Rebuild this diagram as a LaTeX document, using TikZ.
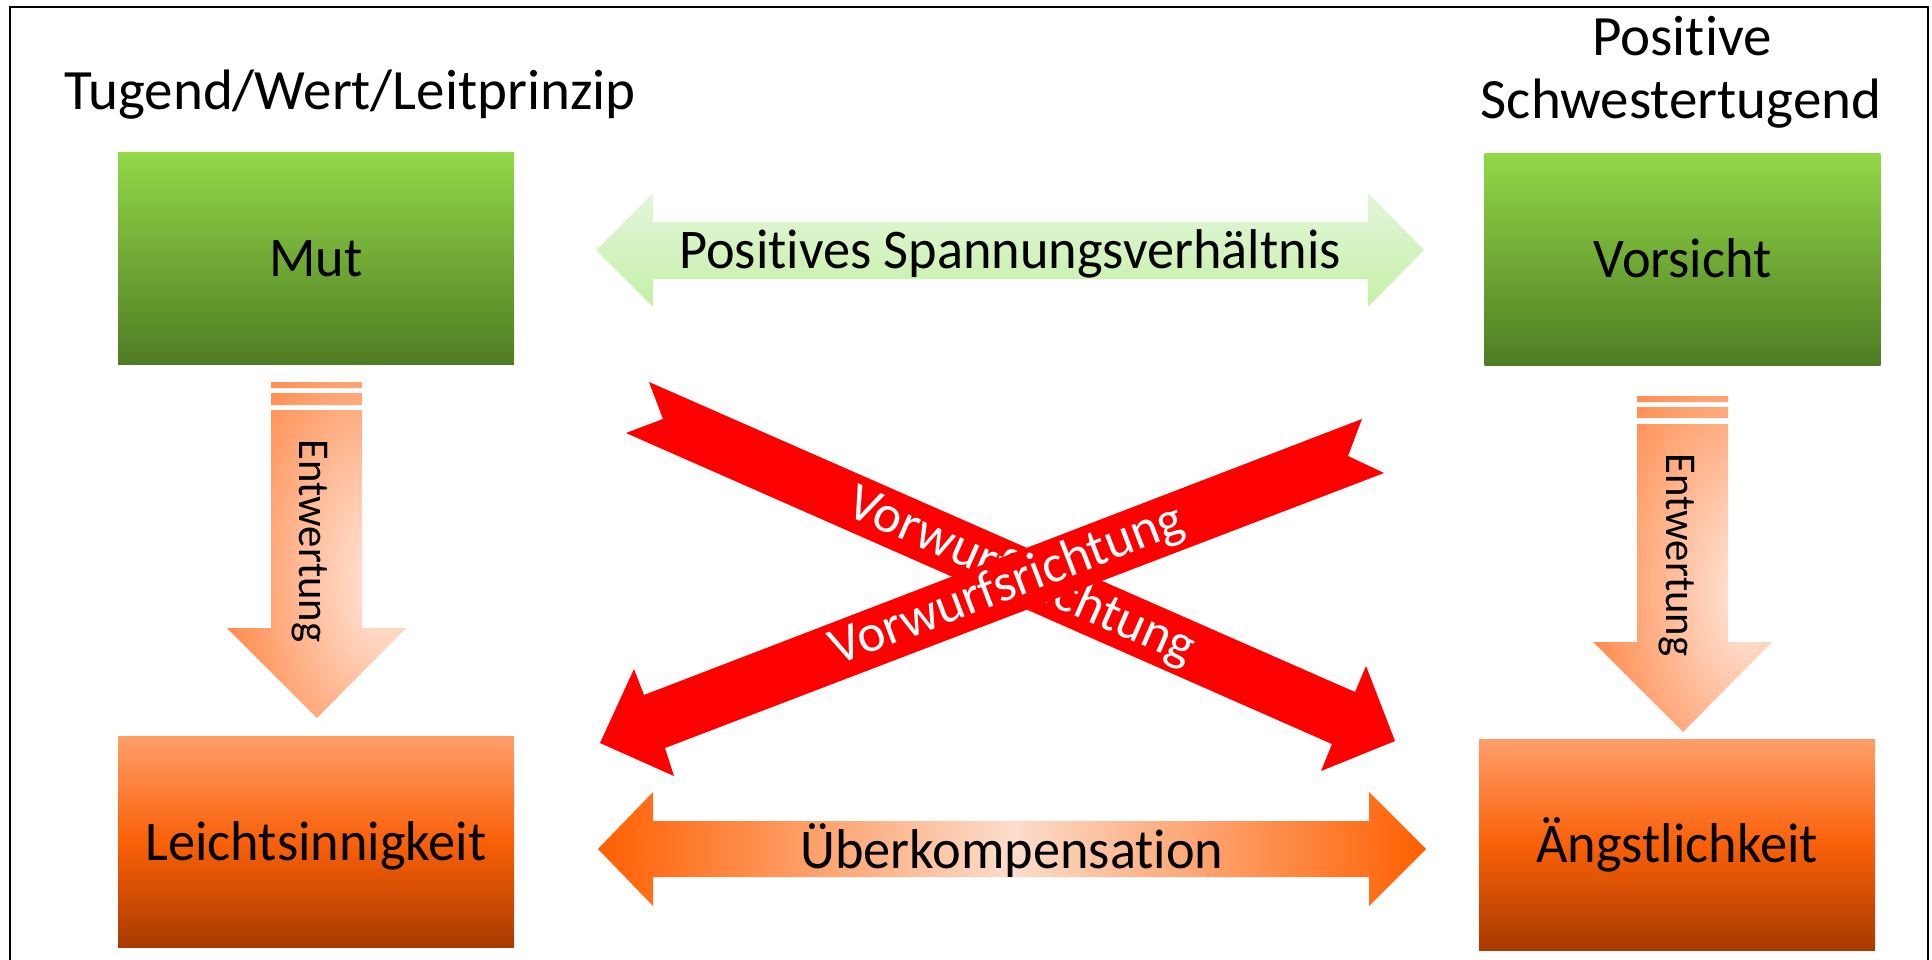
\documentclass[tikz,border=0pt]{standalone}
\usepackage{fontspec}
\setmainfont{Carlito}[Ligatures=NoCommon]
\newfontfamily\lblfam{Carlito}[FakeStretch=0.97,Ligatures=NoCommon]
\newfontfamily\headfam{Carlito}[Ligatures=NoCommon]
\definecolor{gtop}{RGB}{146,216,72}
\definecolor{gbot}{RGB}{79,124,35}
\definecolor{otop}{RGB}{255,158,106}
\definecolor{omid}{RGB}{250,96,8}
\definecolor{obot}{RGB}{168,58,0}
\definecolor{lgtop}{RGB}{228,246,219}
\definecolor{lgbot}{RGB}{196,240,166}
\definecolor{oarr}{RGB}{255,95,0}
\definecolor{oarrmid}{RGB}{252,221,204}
\definecolor{entwout}{RGB}{255,118,45}
\definecolor{entwin}{RGB}{255,234,224}
\colorlet{entwmix}{entwin!80!entwout}
\definecolor{vred}{RGB}{255,0,0}
\pgfdeclareradialshading{entwshade}{\pgfpoint{20bp}{-5bp}}{color(0bp)=(entwin); color(10bp)=(entwmix); color(45bp)=(entwout); color(80bp)=(entwout)}
\begin{document}
\begin{tikzpicture}[x=1pt,y=-1pt,
  lbl/.style={font=\lblfam\fontsize{56pt}{64pt}\selectfont, text=black, inner sep=0pt},
  head/.style={font=\headfam\fontsize{57pt}{64pt}\selectfont, text=black, inner sep=0pt, anchor=base},
  capc/.style={text height=36pt, text depth=0pt},
  gbox/.style={lbl, capc, rectangle, minimum width=396pt, minimum height=211pt, top color=gtop, bottom color=gbot},
  obox/.style={lbl, capc, rectangle, minimum width=396pt, minimum height=211pt, top color=otop, bottom color=obot, middle color=omid},
  entw/.style={font=\lblfam\fontsize{44pt}{50pt}\selectfont, text=black, inner sep=0pt, rotate=-90, anchor=base},
  rtxt/.style={font=\fontsize{53pt}{60pt}\selectfont, text=white, inner sep=0pt},
  frameline/.style={line width=2.2pt, draw=black}
]
\useasboundingbox (0,0) rectangle (1932,960);
% frame
\draw[frameline] (10,962) -- (10,7) -- (1928,7) -- (1928,962);

% headings
\node[head] (h1) at (350,110) {Tugend/Wert/Leitprinzip};
\node[head] (h2a) at (1682,56) {Positive};
\node[head] (h2b) at (1681,119) {Schwestertugend};

% boxes
\node[gbox] (mut) at (316,258.5) {Mut};
\node[gbox] (vor) at (1682.5,259.5) {Vorsicht};
\node[obox] (lei) at (316,842) {Leichtsinnigkeit};
\node[obox] (aen) at (1677,844.5) {Ängstlichkeit};

% light green double arrow
\path[top color=lgtop, bottom color=lgbot]
  (596,250) -- (653,193) -- (653,222) -- (1368,222) -- (1368,193) -- (1424,250)
  -- (1368,307) -- (1368,279) -- (653,279) -- (653,307) -- cycle;
\node[lbl, capc] (pos) at (1010,250) {Positives Spannungsverhältnis};

% orange double arrow
\path[left color=oarr, right color=oarr, middle color=oarrmid]
  (598,849) -- (653,792) -- (653,821) -- (1369,821) -- (1369,792) -- (1426,849)
  -- (1369,906) -- (1369,877) -- (653,877) -- (653,906) -- cycle;
\node[lbl, capc] (ueb) at (1012,850) {Überkompensation};

% down arrows (Entwertung)
\path[shading=entwshade]
  (271,382) rectangle (362,388)
  (271,393) rectangle (362,405)
  (271,410) -- (362,410) -- (362,628) -- (406,628) -- (317,718) -- (227,628) -- (271,628) -- cycle;
\node[entw] (entl) at (299,541) {Entwertung};
\path[shading=entwshade]
  (1637,396) rectangle (1728,402)
  (1637,407) rectangle (1728,418)
  (1637,424) -- (1728,424) -- (1728,642) -- (1772,642) -- (1683,732) -- (1593,642) -- (1637,642) -- cycle;
\node[entw] (entr) at (1666,555) {Entwertung};

% red arrow A (top-left to bottom-right)
\fill[vred] (649,382) -- (1355,692) -- (1366,666) -- (1395,741) -- (1321,771)
  -- (1332,744) -- (626,433) -- (663,419) -- cycle;
\node[rtxt, rotate=-23.75] (va) at (1021,577) {Vorwurfsrichtung};
% red arrow B (top-right to bottom-left)
\fill[vred] (1362,419) -- (1348,456) -- (1384,473) -- (665,748) -- (674,776)
  -- (600,743) -- (634,669) -- (644,695) -- cycle;
\node[rtxt, rotate=20.96] (vb) at (1007,586) {Vorwurfsrichtung};
\end{tikzpicture}
\end{document}
